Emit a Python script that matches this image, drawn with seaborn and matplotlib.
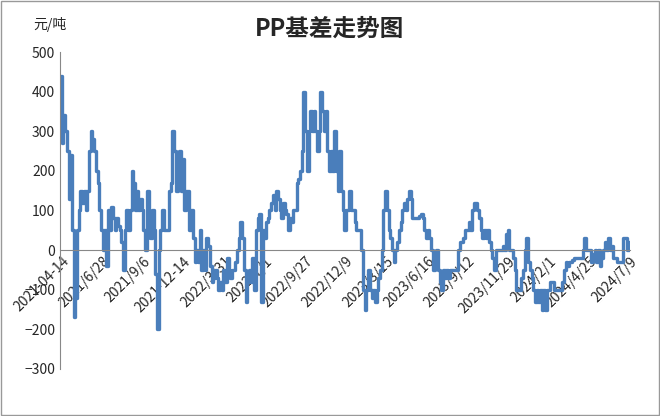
import matplotlib
matplotlib.use("Agg")
import matplotlib.pyplot as plt
import seaborn as sns
import numpy as np
import pandas as pd

basis = [440,270,340,300,250,130,240,50,-170,-120,50,100,150,120,150,100,150,250,300,280,250,200,170,100,50,0,50,-40,100,50,110,80,50,80,60,50,20,-50,50,100,50,100,200,170,100,150,100,130,100,50,0,150,50,30,100,50,-60,-200,0,50,100,50,50,50,150,170,300,250,150,200,250,150,230,100,150,150,50,100,30,-30,0,-30,50,-50,0,-50,30,10,-40,-80,-70,-50,-70,-100,-80,-100,-50,-80,-20,-50,-70,-50,-50,-30,0,30,70,30,-50,-130,-80,-50,-80,-20,-100,50,80,90,-130,50,30,70,80,100,120,140,100,150,130,100,80,120,100,90,50,80,70,100,100,170,180,200,250,400,300,200,300,350,300,350,300,250,300,400,350,300,350,250,200,250,200,300,200,150,250,150,100,50,100,100,150,100,100,70,50,50,50,
         0,-100,-150,-100,-50,-100,-120,-100,-130,-100,-70,-50,0,100,150,100,50,30,0,-30,0,20,50,70,100,120,100,130,150,130,80,80,80,80,85,90,80,50,30,50,30,0,-50,-30,0,-50,-80,-100,-50,-70,-50,-70,-50,-50,-50,-50,-50,0,20,20,30,50,50,70,50,100,120,120,100,80,50,30,50,30,50,20,0,-20,-50,0,0,0,0,10,0,40,50,0,0,-20,-50,-100,-100,-100,-70,-50,0,30,-30,-50,-70,-100,-130,-100,-130,-100,-150,-100,-150,-100,-100,-80,-80,-100,-100,-100,-100,-100,-80,-50,-30,-40,-30,-30,-25,-20,-20,-20,-20,-20,0,30,0,0,0,-30,-10,0,-30,0,-40,-20,0,20,0,30,0,10,-20,-20,-30,-30,-30,-30,30,30,0,20,20]
date_labels = ["2021-04-14","2021/6/28","2021/9/6","2021-12-14","2022/3/31","2022/7/1",
               "2022/9/27","2022/12/9","2023/3/15","2023/6/16","2023/9/12","2023/11/29",
               "2024/2/1","2024/4/25","2024/7/9"]

sns.set_style("white")
plt.rcParams['font.family'] = ['Noto Sans CJK SC', 'DejaVu Sans']

df = pd.DataFrame({"i": np.arange(len(basis)), "v": basis})
fig = plt.figure(figsize=(6.6, 4.16), dpi=100)
ax = fig.add_axes([0.091, 0.113, 0.864, 0.762])
ax.spines['bottom'].set_position(('data', 0))
sns.lineplot(data=df, x="i", y="v", ax=ax, color="#4a7ebb", linewidth=2.4, drawstyle='steps-post')

n = len(basis)
ax.set_xlim(0, n - 1)
ax.set_ylim(-300, 500)
ax.set_yticks(range(-300, 501, 100))
ax.tick_params(axis='y', labelsize=10, length=0)
ax.set_xlabel(""); ax.set_ylabel("")
pos = np.linspace(1, n - 1, len(date_labels))
ax.set_xticks(pos)
ax.set_xticklabels(date_labels, fontsize=10)
plt.setp(ax.get_xticklabels(), rotation=45, ha='right', rotation_mode='anchor')
ax.set_xticks(np.arange(0, n, n * 24 / 570), minor=True)
ax.tick_params(axis='x', which='both', direction='out', length=4, color='#888888', pad=3)
ax.tick_params(axis='x', which='major', length=0)
ax.spines['bottom'].set_color('#888888')
ax.spines['left'].set_color('#888888')
ax.spines['top'].set_visible(False)
ax.spines['right'].set_visible(False)

fig.text(0.5, 0.93, "PP基差走势图", ha='center', va='center', fontsize=17, fontweight='bold')
fig.text(0.05, 0.94, "元/吨", ha='left', va='center', fontsize=10)
fig.patches.append(plt.Rectangle((0.002, 0.002), 0.996, 0.996, transform=fig.transFigure,
                                 fill=False, edgecolor='#999999', linewidth=1))
fig.savefig("out.png", dpi=100)
